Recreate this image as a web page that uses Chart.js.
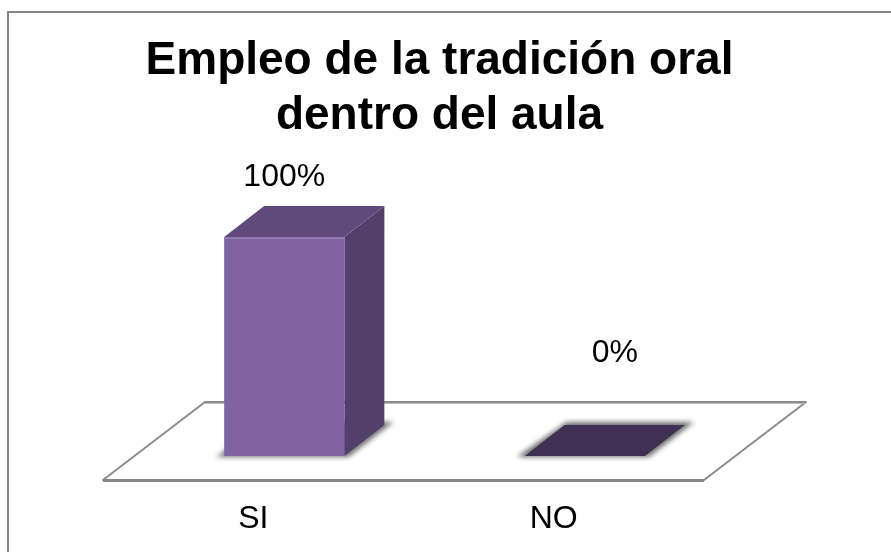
<!DOCTYPE html>
<html>
<head>
<meta charset="utf-8">
<style>
  html, body { margin: 0; padding: 0; background: #fff; }
  canvas { display: block; }
</style>
<script src="https://cdn.jsdelivr.net/npm/chart.js@4/dist/chart.umd.js"></script>
</head>
<body>
<canvas id="chart" width="891" height="552"></canvas>
<script>
const categories = ['SI', 'NO']
const percentages = [100, 0]
const titleLines = ['Empleo de la tradición oral', 'dentro del aula']

const FONT = "'Liberation Sans', Arial, sans-serif"

// fake 3D: bar sits inside the floor, floor runs back by floorDepth
const floorDepth = { x: 102, y: -78 }
const barShift = { x: 31, y: -24 }
const barDepth = { x: 40, y: -31 }
const topFaces = ['#604A7B', '#403152']
const labelOffsets = [{ x: 31, y: -75 }, { x: 61, y: -118 }]

const polygon = (ctx, points) => {
  ctx.beginPath()
  points.forEach(([x, y], i) => (i ? ctx.lineTo(x, y) : ctx.moveTo(x, y)))
  ctx.closePath()
}

const frame = {
  id: 'frame',
  beforeDraw(chart) {
    const { ctx, width, height } = chart
    ctx.save()
    ctx.fillStyle = '#fff'
    ctx.fillRect(0, 0, width, height)
    ctx.strokeStyle = '#868686'
    ctx.lineWidth = 2
    ctx.beginPath()
    ctx.moveTo(8, height)
    ctx.lineTo(8, 12)
    ctx.lineTo(width, 12)
    ctx.stroke()
    ctx.restore()
  },
}

const box3d = {
  id: 'box3d',
  beforeDatasetsDraw(chart) {
    const { ctx, chartArea: { left, right, bottom } } = chart
    const backY = bottom + floorDepth.y
    // floor
    ctx.save()
    polygon(ctx, [
      [left, bottom],
      [right, bottom],
      [right + floorDepth.x, backY],
      [left + floorDepth.x, backY],
    ])
    ctx.fillStyle = '#fff'
    ctx.fill()
    ctx.strokeStyle = '#8c8c8c'
    ctx.lineWidth = 2
    ctx.lineJoin = 'round'
    ctx.stroke()
    // front edge is heavier, back edge has a pale lower rim
    ctx.beginPath()
    ctx.moveTo(left, bottom + 0.5)
    ctx.lineTo(right, bottom + 0.5)
    ctx.lineWidth = 3
    ctx.strokeStyle = '#868686'
    ctx.stroke()
    ctx.beginPath()
    ctx.moveTo(left + floorDepth.x, backY + 1.5)
    ctx.lineTo(right + floorDepth.x - 2, backY + 1.5)
    ctx.lineWidth = 1
    ctx.strokeStyle = '#bdbdbd'
    ctx.stroke()
    ctx.restore()

    ctx.save()
    ctx.translate(barShift.x, barShift.y)
    chart.getDatasetMeta(0).data.forEach((bar, i) => {
      const x0 = bar.x - bar.width / 2
      const x1 = bar.x + bar.width / 2
      const dx = barDepth.x
      const dy = barDepth.y
      // soft shadow under the base, wider than the base
      ctx.save()
      ctx.filter = 'blur(2.5px)'
      polygon(ctx, [
        [x0 - 8, bar.base + 1],
        [x1 + 4, bar.base + 1],
        [x1 + dx + 9, bar.base + dy - 3],
        [x0 + dx + 2, bar.base + dy - 3],
      ])
      ctx.fillStyle = '#6f6f6f'
      ctx.fill()
      ctx.restore()
      // side
      polygon(ctx, [[x1, bar.y], [x1 + dx, bar.y + dy], [x1 + dx, bar.base + dy], [x1, bar.base]])
      ctx.fillStyle = '#53406A'
      ctx.fill()
      // top
      polygon(ctx, [[x0, bar.y], [x1, bar.y], [x1 + dx, bar.y + dy], [x0 + dx, bar.y + dy]])
      ctx.fillStyle = topFaces[i]
      ctx.fill()
    })
  },
  afterDatasetsDraw(chart) {
    const { ctx } = chart
    // highlight along the top of the front face
    chart.getDatasetMeta(0).data.forEach((bar) => {
      if (bar.base - bar.y < 1) return
      ctx.fillStyle = '#9179B2'
      ctx.fillRect(bar.x - bar.width / 2, bar.y, bar.width, 2)
    })
    ctx.restore()
    ctx.save()
    ctx.font = '32px ' + FONT
    ctx.fillStyle = '#000'
    ctx.textAlign = 'center'
    ctx.textBaseline = 'alphabetic'
    chart.getDatasetMeta(0).data.forEach((bar, i) => {
      ctx.fillText(percentages[i] + '%', bar.x + labelOffsets[i].x, bar.y + labelOffsets[i].y)
    })
    ctx.restore()
  },
}

new Chart(document.getElementById('chart').getContext('2d'), {
  type: 'bar',
  data: {
    labels: categories,
    datasets: [
      {
        data: percentages,
        backgroundColor: '#8064A2',
        borderWidth: 0,
        barPercentage: 0.4,
        categoryPercentage: 1,
        clip: false,
      },
    ],
  },
  plugins: [frame, box3d],
  options: {
    responsive: false,
    animation: false,
    layout: { padding: { right: 12 } },
    plugins: {
      legend: { display: false },
      tooltip: { enabled: false },
      title: {
        display: true,
        text: titleLines,
        color: '#000',
        font: { family: FONT, size: 46, weight: 'bold', lineHeight: 1.196 },
        padding: { top: 34, bottom: 117 },
      },
    },
    scales: {
      x: {
        grid: { display: false, drawTicks: false },
        border: { display: false },
        afterFit: (scale) => { scale.height = 72 },
        ticks: { color: '#000', padding: 20, font: { family: FONT, size: 32 } },
      },
      y: {
        min: 0,
        max: 100,
        position: 'left',
        grid: { display: false },
        border: { display: false },
        ticks: { display: false },
        afterFit: (scale) => { scale.width = 103 },
      },
      spacer: {
        position: 'right',
        grid: { display: false },
        border: { display: false },
        ticks: { display: false },
        afterFit: (scale) => { scale.width = 175 },
      },
    },
  },
})
</script>
</body>
</html>
